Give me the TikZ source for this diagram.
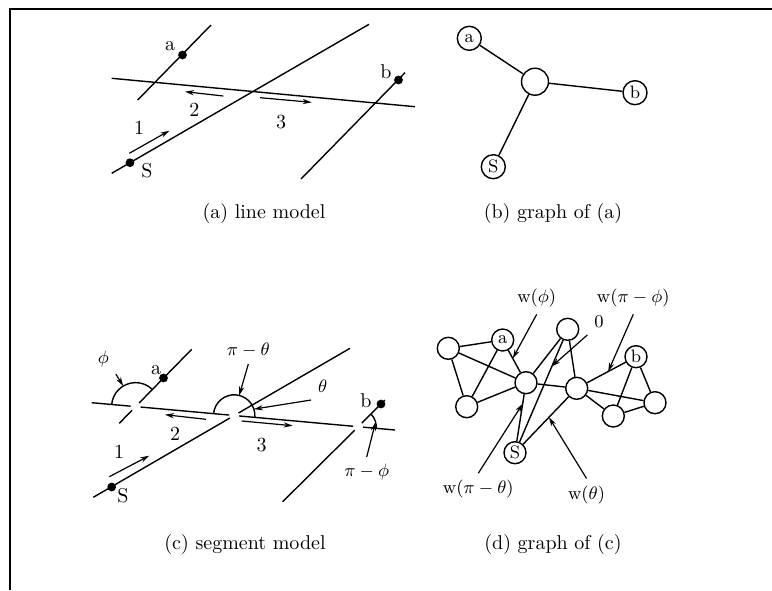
\documentclass[tikz,border=0pt]{standalone}
\usepackage{amsmath,amssymb}
\usepackage{tikz}
\usetikzlibrary{positioning,arrows.meta,calc}

\tikzset{
  seg/.style={line width=0.7pt},
  dot/.style={circle,fill=black,inner sep=0pt,minimum size=4.4pt},
  vtx/.style={circle,draw,line width=0.7pt,inner sep=0pt,minimum size=11pt,font=\small},
  mv/.style={-{Stealth[length=4.5pt,width=2.6pt]},line width=0.6pt},
  pointer/.style={-{Stealth[length=4.5pt,width=2.6pt]},line width=0.6pt},
}

\begin{document}
\begin{tikzpicture}[x=0.5pt,y=-0.5pt]
  \useasboundingbox (0,0) rectangle (772,590);
  % Frame
  \draw[line width=1.3pt] (10,590) -- (10,9) -- (772,9);

  % (a) line model
  \draw[seg] (137.7,100) -- (211,25);
  \draw[seg] (111.7,78.3) -- (415,106.7);
  \draw[seg] (111.7,173.3) -- (369,24.3);
  \draw[seg] (301,179) -- (405,72.7);
  \node[dot] (pa) at (182.5,55) {};
  \node[dot] (ps) at (130,162.7) {};
  \node[dot] (pb) at (398.5,80) {};
  \node (la) at (170,46) {a};
  \node (ls) at (147,171) {S};
  \node (lb) at (386,72) {b};
  \draw[mv] (129.3,153.3) -- (169.3,130.7);
  \draw[mv] (223.3,96) -- (185,91.7);
  \draw[mv] (260,97.7) -- (311.7,102.3);
  \node (n1) at (139,128) {1};
  \node (n2) at (194.3,110) {2};
  \node (n3) at (281,121.7) {3};
  \node (capa) at (264,213) {(a) line model};

  % (b) graph of (a)
  \node[vtx,minimum size=12pt] (ga) at (469.3,38.3) {a};
  \node[vtx,minimum size=13.5pt] (gm) at (535,81.7) {};
  \node[vtx,minimum size=12pt] (gb) at (635,92.7) {b};
  \node[vtx,minimum size=12pt] (gs) at (493.3,166.7) {S};
  \foreach \v in {ga,gb,gs}
    \draw[seg] (gm) -- (\v);
  \node (capb) at (553,213) {(b) graph of (a)};

  % (c) segment model
  \coordinate (hl) at (91.7,402.7);
  \coordinate (hr) at (395,430);
  \coordinate (xa) at (135.6,406.6);
  \coordinate (xc) at (234.2,415.5);
  \coordinate (xb) at (358.2,426.7);
  \coordinate (al) at (119.3,423.3);
  \coordinate (au) at (191.7,349.3);
  \coordinate (sl) at (93.3,497.3);
  \coordinate (su) at (350,348.3);
  \coordinate (bl) at (282.7,501.7);
  \coordinate (bu) at (385,400);
  % horizontal line, cut at every crossing
  \draw[seg] (hl) -- ($(xa)!2.5pt!(hl)$);
  \draw[seg] ($(xa)!2.5pt!(hr)$) -- ($(xc)!2.5pt!(hl)$);
  \draw[seg] ($(xc)!2.5pt!(hr)$) -- ($(xb)!2.5pt!(hl)$);
  \draw[seg] ($(xb)!2.5pt!(hr)$) -- (hr);
  % crossing lines, cut the same way
  \foreach \lo/\x/\hi in {al/xa/au, sl/xc/su, bl/xb/bu} {
    \draw[seg] (\lo) -- ($(\x)!2.5pt!(\lo)$);
    \draw[seg] ($(\x)!2.5pt!(\hi)$) -- (\hi);
  }
  % angle arcs
  \draw[seg] (xa) ++(-45.6:24) arc[start angle=-45.6,end angle=-174.9,radius=24];
  \draw[seg] (xc) ++(5.1:20.7) arc[start angle=5.1,end angle=-174.9,radius=20.7];
  \draw[seg] (xb) ++(5.1:18) arc[start angle=5.1,end angle=-44.9,radius=18];
  \node[dot] (qa) at (163.5,378) {};
  \node[dot] (qs) at (111.7,487) {};
  \node[dot] (qb) at (381,404) {};
  \node (ma) at (156,370) {a};
  \node (ms) at (123,496) {S};
  \node (mb) at (366,401) {b};
  \draw[mv] (109.3,476.7) -- (149.3,455.7);
  \draw[mv] (206,419.3) -- (165,414.7);
  \draw[mv] (241.7,421) -- (292.7,425.7);
  \node (m1) at (119,451.7) {1};
  \node (m2) at (175,434.3) {2};
  \node (m3) at (261.7,445) {3};
  \node[font=\small] (lphi) at (103.3,359) {$\phi$};
  \node[font=\small] (lpt) at (248.3,350) {$\pi-\theta$};
  \node[font=\small] (lth) at (322.7,386.7) {$\theta$};
  \node[font=\small] (lpp) at (366.7,472) {$\pi-\phi$};
  \draw[pointer] (lphi.south east) -- ($(xa)+(-121:24)$);
  \draw[pointer] (lpt.south) -- ($(xc)+(-76:20.7)$);
  \draw[pointer] (lth.south west) -- ($(xc)+(-18:20.7)$);
  \draw[pointer] (lpp.north) -- ($(xb)+(-15:18)$);
  \node (capc) at (245,544) {(c) segment model};

  % (d) graph of (c)
  \node[vtx] (dl1) at (448.3,348.3) {};
  \node[vtx] (da) at (502.7,340) {a};
  \node[vtx] (dl2) at (466.7,406.7) {};
  \node[vtx] (dc1) at (526,382.7) {};
  \node[vtx] (dt) at (567.7,329.3) {};
  \node[vtx] (dc2) at (576.7,388.3) {};
  \node[vtx] (db) at (636,356.7) {b};
  \node[vtx] (dr1) at (655,402.7) {};
  \node[vtx] (dr2) at (613.3,416) {};
  \node[vtx] (ds) at (515,452.7) {S};
  \foreach \u/\v in {dl1/da, dl1/dl2, da/dl2, dl1/dc1, da/dc1, dl2/dc1,
                     dc1/dc2, dc1/dt, dt/dc2, ds/dc1, ds/dt, ds/dc2,
                     dc2/db, dc2/dr1, dc2/dr2, db/dr1, db/dr2, dr2/dr1}
    \draw[seg] (\u) -- (\v);
  \node[font=\small] (wphi) at (536.7,298.3) {w($\phi$)};
  \node[font=\small] (wpphi) at (633.3,298.3) {w($\pi-\phi$)};
  \node[font=\small] (wzero) at (599,321.7) {0};
  \node[font=\small] (wpth) at (478.3,489.3) {w($\pi-\theta$)};
  \node[font=\small] (wth) at (586.5,494.5) {w($\theta$)};
  \draw[pointer] (wphi.south) -- ($(da)!0.43!(dc1)$);
  \draw[pointer] (wpphi.south) -- ($(dc2)!0.53!(db)$);
  \draw[pointer] (wzero.south west) -- ($(ds)!0.7!(dt)$);
  \draw[pointer] (wpth.north) -- ($(ds)!0.7!(dc1)$);
  \draw[pointer] (wth.north) -- ($(ds)!0.55!(dc2)$);
  \node (capd) at (553,544) {(d) graph of (c)};
\end{tikzpicture}
\end{document}
